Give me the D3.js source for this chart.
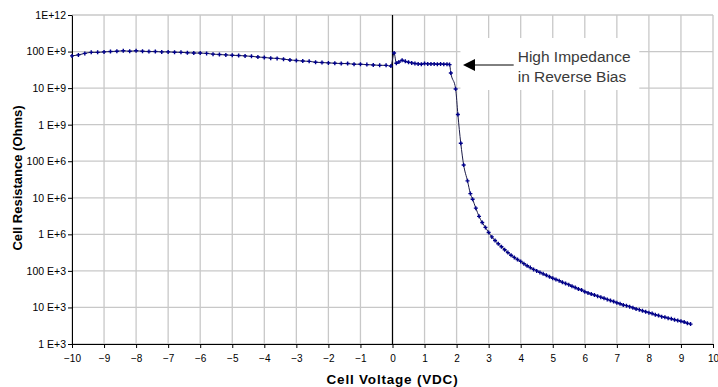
<!DOCTYPE html>
<html>
<head>
<meta charset="utf-8">
<script src="https://cdn.jsdelivr.net/npm/d3@7"></script>
<style>
  body { margin: 0; background: #fff; }
  svg { display: block; font-family: "Liberation Sans", Arial, sans-serif; }
</style>
</head>
<body>
<div id="chart-area"></div>
<script>
const voltage = [
  -10.0, -9.8, -9.6, -9.4, -9.2, -9.0, -8.8, -8.6, -8.4, -8.2,
  -8.0, -7.8, -7.6, -7.4, -7.2, -7.0, -6.8, -6.6, -6.4, -6.2,
  -6.0, -5.8, -5.6, -5.4, -5.2, -5.0, -4.8, -4.6, -4.4, -4.2,
  -4.0, -3.8, -3.6, -3.4, -3.2, -3.0, -2.8, -2.6, -2.4, -2.2,
  -2.0, -1.8, -1.6, -1.4, -1.2, -1.0, -0.8, -0.6, -0.4, -0.2,
  -0.05, 0.05, 0.12, 0.2, 0.3, 0.4, 0.5, 0.6, 0.7, 0.8,
  0.9, 1.0, 1.1, 1.2, 1.3, 1.4, 1.5, 1.6, 1.7, 1.78,
  1.82, 1.97, 2.04, 2.13, 2.22, 2.34, 2.43, 2.5, 2.6, 2.7,
  2.8, 2.9, 3.0, 3.1, 3.2, 3.3, 3.4, 3.5, 3.6, 3.7,
  3.8, 3.9, 4.0, 4.1, 4.2, 4.3, 4.4, 4.5, 4.6, 4.7,
  4.8, 4.9, 5.0, 5.1, 5.2, 5.3, 5.4, 5.5, 5.6, 5.7,
  5.8, 5.9, 6.0, 6.1, 6.2, 6.3, 6.4, 6.5, 6.6, 6.7,
  6.8, 6.9, 7.0, 7.1, 7.2, 7.3, 7.4, 7.5, 7.6, 7.7,
  7.8, 7.9, 8.0, 8.1, 8.2, 8.3, 8.4, 8.5, 8.6, 8.7,
  8.8, 8.9, 9.0, 9.1, 9.2, 9.3
];
const resistance = [
  76e9, 81e9, 89e9, 95e9, 95e9, 98e9, 100e9, 102e9, 105e9, 102e9,
  105e9, 102e9, 100e9, 100e9, 98e9, 98e9, 96e9, 95e9, 93e9, 91e9,
  91e9, 89e9, 85e9, 83e9, 81e9, 79e9, 78e9, 76e9, 74e9, 71e9,
  69e9, 66e9, 65e9, 62e9, 59e9, 57e9, 55e9, 54e9, 51e9, 50e9,
  49e9, 48e9, 47e9, 47e9, 45e9, 45e9, 44e9, 43e9, 42e9, 42e9,
  40e9, 91e9, 48e9, 52e9, 58e9, 54e9, 51e9, 49e9, 47e9, 46e9,
  45e9, 47e9, 46e9, 46e9, 46e9, 45e9, 46e9, 45e9, 45e9, 44e9,
  26e9, 9.5e9, 1.9e9, 310e6, 79e6, 29e6, 13e6, 9.1e6, 5.2e6, 3.1e6,
  2.1e6, 1.55e6, 1.12e6, 850e3, 676e3, 550e3, 457e3, 380e3, 316e3, 269e3,
  234e3, 204e3, 182e3, 158e3, 138e3, 123e3, 110e3, 100e3, 91e3, 83e3,
  76e3, 69e3, 63e3, 58e3, 54e3, 49e3, 45e3, 42e3, 38e3, 35e3,
  32e3, 30e3, 27e3, 25e3, 23.4e3, 21.9e3, 20.4e3, 19.1e3, 17.8e3, 16.6e3,
  15.5e3, 14.5e3, 13.5e3, 12.6e3, 11.7e3, 11.2e3, 10.5e3, 9.8e3, 9.1e3, 8.7e3,
  8.1e3, 7.6e3, 7.2e3, 6.8e3, 6.3e3, 6.0e3, 5.6e3, 5.4e3, 5.1e3, 4.9e3,
  4.6e3, 4.4e3, 4.2e3, 4.0e3, 3.7e3, 3.5e3
];

const xTicks = [-10, -9, -8, -7, -6, -5, -4, -3, -2, -1, 0, 1, 2, 3, 4, 5, 6, 7, 8, 9, 10];
const yTicks = [1e3, 1e4, 1e5, 1e6, 1e7, 1e8, 1e9, 1e10, 1e11, 1e12];
const yTickLabels = ['1 E+3', '10 E+3', '100 E+3', '1 E+6', '10 E+6', '100 E+6',
                     '1 E+9', '10 E+9', '100 E+9', '1E+12'];
const noteLines = ['High Impedance', 'in Reverse Bias'];

const margin = {left: 72, right: 5, top: 15, bottom: 43};
const width = 718 - margin.left - margin.right;
const height = 387 - margin.top - margin.bottom;

const data = voltage.map((v, i) => ({v: v, r: resistance[i]}));

const svg = d3.select('#chart-area')
    .append('svg')
        .attr('width', 718)
        .attr('height', 387);

const g = svg.append('g')
    .attr('transform', `translate(${margin.left}, ${margin.top})`);

const x = d3.scaleLinear()
    .domain([-10, 10])
    .range([0, width]);

const y = d3.scaleLog()
    .domain([1e3, 1e12])
    .range([height, 0]);

// grid
g.append('g')
    .selectAll('line')
    .data(xTicks)
    .enter().append('line')
        .attr('x1', d => x(d)).attr('x2', d => x(d))
        .attr('y1', 0).attr('y2', height)
        .attr('stroke', '#c8c8c8')
        .attr('stroke-width', 1.3);

g.append('g')
    .selectAll('line')
    .data(yTicks)
    .enter().append('line')
        .attr('x1', 0).attr('x2', width)
        .attr('y1', d => y(d)).attr('y2', d => y(d))
        .attr('stroke', '#c8c8c8')
        .attr('stroke-width', 1.3);

// white box behind the note hides the grid
const noteX = x(4) - 3;
g.append('rect')
    .attr('x', x(2.12))
    .attr('y', y(1e12) + 23)
    .attr('width', x(7.7) - x(2.12))
    .attr('height', 52)
    .attr('fill', '#fff');

// axes
const xAxisCall = d3.axisBottom(x)
    .tickValues(xTicks)
    .tickSize(4)
    .tickSizeOuter(0)
    .tickFormat(d3.format('d'));

g.append('g')
    .attr('class', 'x axis')
    .attr('transform', `translate(0, ${height})`)
    .call(xAxisCall)
    .call(a => a.selectAll('text')
        .attr('font-size', '10px')
        .attr('font-family', '"Liberation Sans", Arial, sans-serif')
        .attr('fill', '#000')
        .attr('y', 11));

const yAxisCall = d3.axisLeft(y)
    .tickValues(yTicks)
    .tickSize(4)
    .tickSizeOuter(0)
    .tickFormat((d, i) => yTickLabels[i]);

g.append('g')
    .attr('class', 'y axis')
    .call(yAxisCall)
    .call(a => a.selectAll('text')
        .attr('font-size', '10.5px')
        .attr('font-family', '"Liberation Sans", Arial, sans-serif')
        .attr('fill', '#000')
        .attr('x', -6));

g.selectAll('.axis path, .axis line').attr('stroke', '#000');

// vertical line at 0 V
g.append('line')
    .attr('x1', x(0)).attr('x2', x(0))
    .attr('y1', 0).attr('y2', height)
    .attr('stroke', '#000')
    .attr('stroke-width', 1.2);

// series
const line = d3.line()
    .curve(d3.curveMonotoneX)
    .x(d => x(d.v))
    .y(d => y(d.r));

g.append('path')
    .datum(data)
    .attr('fill', 'none')
    .attr('stroke', '#1c1c48')
    .attr('stroke-width', 1)
    .attr('d', line);

g.append('g')
    .selectAll('path')
    .data(data)
    .enter().append('path')
        .attr('transform', d => `translate(${x(d.v)}, ${y(d.r)})`)
        .attr('d', 'M-2,0H2M0,-2V2')
        .attr('stroke', '#00008b')
        .attr('stroke-width', 1.4);

// note and arrow
const arrowY = y(1e12) + 50;
g.append('line')
    .attr('x1', x(2.2) + 12).attr('x2', noteX - 4)
    .attr('y1', arrowY).attr('y2', arrowY)
    .attr('stroke', '#000')
    .attr('stroke-width', 1);

g.append('path')
    .attr('d', `M${x(2.2)},${arrowY}l12,-6v12z`)
    .attr('fill', '#000');

g.append('g')
    .selectAll('text')
    .data(noteLines)
    .enter().append('text')
        .attr('x', noteX)
        .attr('y', (d, i) => y(1e12) + 47 + i * 20)
        .attr('font-size', '15.5px')
        .attr('fill', '#3a3a3a')
        .text(d => d);

// X Label
svg.append('text')
    .attr('x', margin.left + x(0))
    .attr('y', 384)
    .attr('font-size', '13.5px')
    .attr('font-weight', 'bold')
    .attr('letter-spacing', '0.8px')
    .attr('text-anchor', 'middle')
    .text('Cell Voltage (VDC)');

// Y Label
svg.append('text')
    .attr('transform', 'translate(22, 178) rotate(-90)')
    .attr('font-size', '13px')
    .attr('font-weight', 'bold')
    .attr('text-anchor', 'middle')
    .text('Cell Resistance (Ohms)');
</script>
</body>
</html>
